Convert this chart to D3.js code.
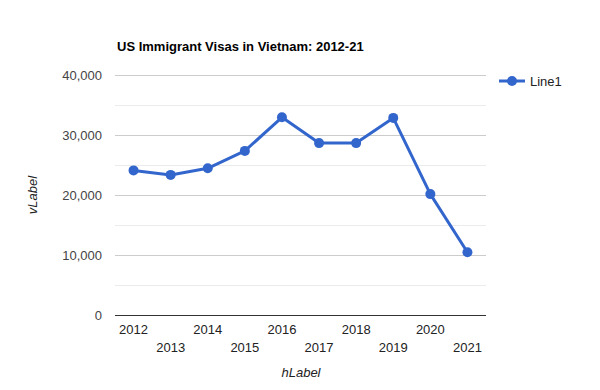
<!DOCTYPE html>
<html>
<head>
<meta charset="utf-8">
<script src="https://cdn.jsdelivr.net/npm/d3@7"></script>
<style>
  body { margin: 0; background: #fff; }
  svg { font-family: Arial, "Liberation Sans", sans-serif; }
</style>
</head>
<body>
<div id="chart"></div>
<script>
// data
const years = ["2012", "2013", "2014", "2015", "2016", "2017", "2018", "2019", "2020", "2021"];
const visas = [24100, 23350, 24450, 27350, 32950, 28650, 28650, 32850, 20150, 10450];
const yTicks = [0, 10000, 20000, 30000, 40000];
const minorTicks = [5000, 15000, 25000, 35000];
const seriesName = "Line1";

const width = 600;
const height = 390;
const margin = { top: 75, right: 114, bottom: 75, left: 115 };
const blue = "#3366cc";

const svg = d3.select("#chart")
    .append("svg")
    .attr("width", width)
    .attr("height", height);

const x = d3.scalePoint()
    .domain(years)
    .range([margin.left, width - margin.right])
    .padding(0.5);

const y = d3.scaleLinear()
    .domain([0, 40000])
    .range([height - margin.bottom, margin.top]);

// title
svg.append("text")
    .attr("x", 117)
    .attr("y", 51)
    .attr("font-size", 13)
    .attr("font-weight", "bold")
    .attr("fill", "#000")
    .text("US Immigrant Visas in Vietnam: 2012-21");

// minor gridlines
svg.selectAll(".minor")
    .data(minorTicks)
    .enter()
    .append("line")
    .attr("x1", margin.left)
    .attr("x2", width - margin.right)
    .attr("y1", d => Math.round(y(d)) + 0.5)
    .attr("y2", d => Math.round(y(d)) + 0.5)
    .attr("stroke", "#ebebeb")
    .attr("stroke-width", 1);

// major gridlines + labels
svg.selectAll(".major")
    .data(yTicks)
    .enter()
    .append("line")
    .attr("x1", margin.left)
    .attr("x2", width - margin.right)
    .attr("y1", d => Math.round(y(d)) + 0.5)
    .attr("y2", d => Math.round(y(d)) + 0.5)
    .attr("stroke", d => d === 0 ? "#333" : "#cccccc")
    .attr("stroke-width", 1);

svg.selectAll(".ylab")
    .data(yTicks)
    .enter()
    .append("text")
    .attr("x", 102)
    .attr("y", d => y(d) + 4.5)
    .attr("text-anchor", "end")
    .attr("font-size", 13)
    .attr("fill", "#444")
    .text(d => d3.format(",")(d));

// x labels, staggered on two rows
svg.selectAll(".xlab")
    .data(years)
    .enter()
    .append("text")
    .attr("x", d => x(d))
    .attr("y", (d, i) => i % 2 === 0 ? 333.5 : 352)
    .attr("text-anchor", "middle")
    .attr("font-size", 13)
    .attr("fill", "#222")
    .text(d => d);

// axis titles
svg.append("text")
    .attr("x", 301)
    .attr("y", 377)
    .attr("text-anchor", "middle")
    .attr("font-size", 13)
    .attr("font-style", "italic")
    .attr("fill", "#222")
    .text("hLabel");

svg.append("text")
    .attr("transform", "translate(37,195) rotate(-90)")
    .attr("text-anchor", "middle")
    .attr("font-size", 13)
    .attr("font-style", "italic")
    .attr("fill", "#222")
    .text("vLabel");

// series
const line = d3.line()
    .x((d, i) => x(years[i]))
    .y(d => y(d));

svg.append("path")
    .datum(visas)
    .attr("d", line)
    .attr("fill", "none")
    .attr("stroke", blue)
    .attr("stroke-width", 3)
    .attr("stroke-linejoin", "round");

svg.selectAll(".pt")
    .data(visas)
    .enter()
    .append("circle")
    .attr("cx", (d, i) => x(years[i]))
    .attr("cy", d => y(d))
    .attr("r", 5)
    .attr("fill", blue);

// legend
const legend = svg.append("g").attr("transform", "translate(499,81)");
legend.append("line")
    .attr("x1", 0).attr("x2", 26)
    .attr("y1", 0).attr("y2", 0)
    .attr("stroke", blue)
    .attr("stroke-width", 3);
legend.append("circle")
    .attr("cx", 13).attr("cy", 0)
    .attr("r", 5)
    .attr("fill", blue);
legend.append("text")
    .attr("x", 31)
    .attr("y", 4.5)
    .attr("font-size", 13)
    .attr("fill", "#222")
    .text(seriesName);
</script>
</body>
</html>
